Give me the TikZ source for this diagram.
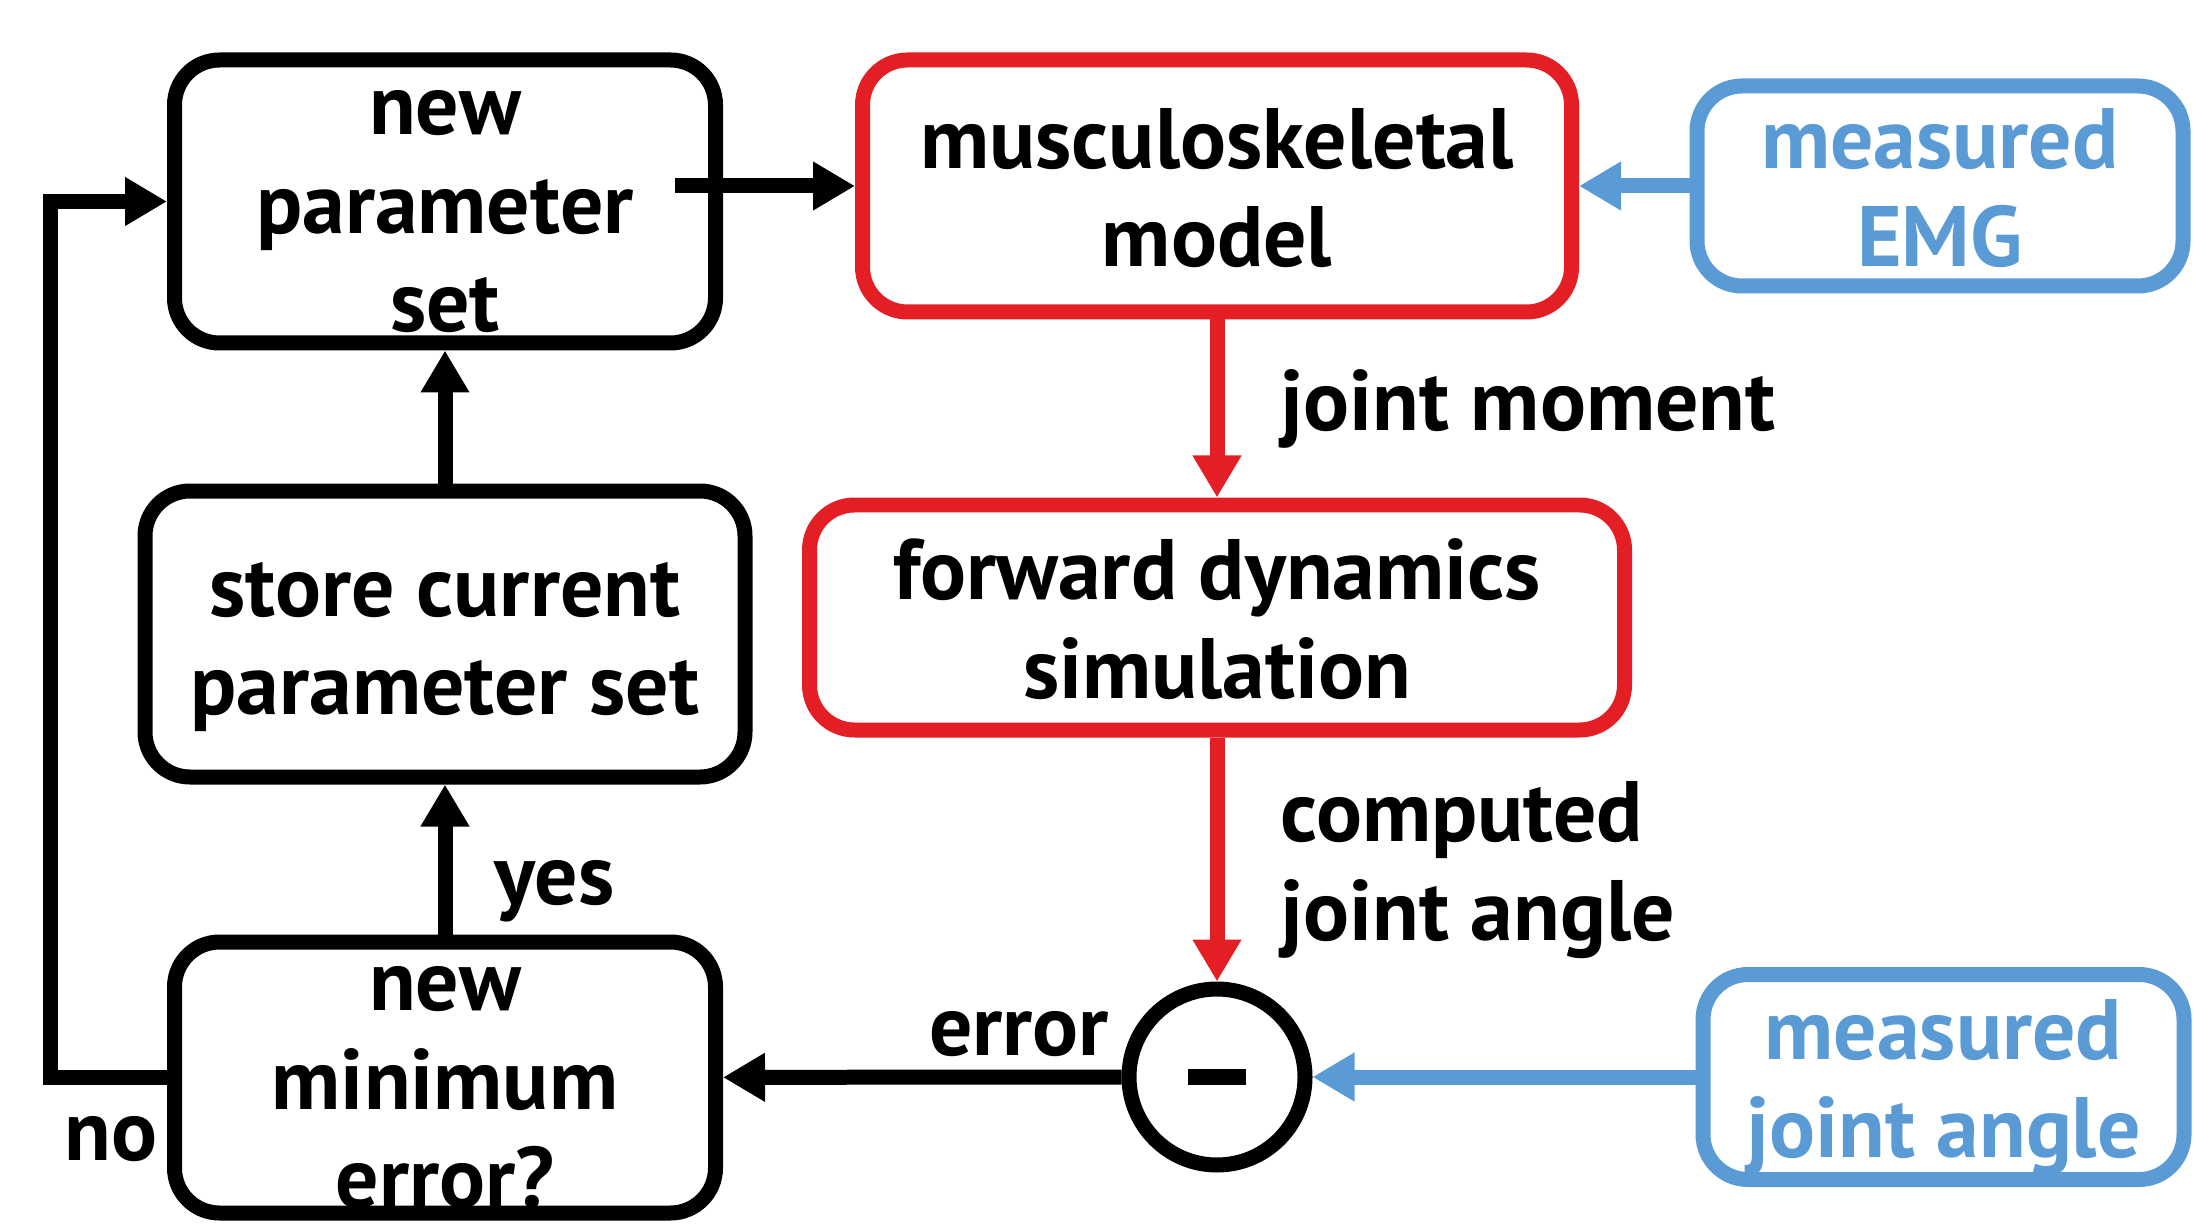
\documentclass[tikz,border=0pt]{standalone}
\usepackage{fontspec}
\setmainfont{PT Sans}
\usepackage{tikz}
\usetikzlibrary{arrows.meta,positioning,calc}
\definecolor{modelred}{RGB}{227,30,36}
\definecolor{measblue}{RGB}{91,155,213}

\begin{document}
\begin{tikzpicture}[
    box/.style={draw, line width=0.15cm, rounded corners=0.45cm, align=center, inner sep=0,
                font=\bfseries\fontsize{24.4}{28}\selectfont},
    redbox/.style={box, draw=modelred},
    bluebox/.style={box, draw=measblue, text=measblue},
    twolines/.style={text height=50pt, text depth=4pt},
    threelines/.style={text height=75pt, text depth=1pt},
    flow/.style={line width=0.15cm, -{Triangle[length=0.42cm,width=0.46cm]}},
    lbl/.style={inner sep=0, text=black, font=\bfseries\fontsize{24.4}{28}\selectfont}
  ]
  \useasboundingbox (0,0) rectangle (21.94,12.26);

  % Optimisation loop (left column)
  \node[box, threelines, minimum width=5.41cm, minimum height=2.83cm] (newset) at (4.45,10.245) {new\\parameter\\set};
  \node[box, twolines, minimum width=6.00cm, minimum height=2.86cm] (store) at (4.45,5.92) {store current\\parameter set};
  \node[box, threelines, minimum width=5.41cm, minimum height=2.71cm] (newmin) at (4.45,1.485) {new\\minimum\\error?};

  % Model and simulation (middle column)
  \node[redbox, twolines, minimum width=7.09cm, minimum height=2.52cm] (model) at (12.17,10.40) {musculoskeletal\\model};
  \node[redbox, twolines, minimum width=8.15cm, minimum height=2.25cm] (fwd) at (12.17,6.085) {forward dynamics\\simulation};
  \node[circle, draw, line width=0.15cm, minimum size=1.76cm, inner sep=0] (diff) at (12.17,1.49) {\rule{0.58cm}{0.16cm}};

  % Measurements (right column)
  \node[bluebox, twolines, minimum width=4.86cm, minimum height=2.00cm] (emg) at (19.40,10.40) {measured\\EMG};
  \node[bluebox, twolines, minimum width=4.81cm, minimum height=2.05cm] (angle) at (19.435,1.49) {measured\\joint angle};

  \coordinate (noleft) at (0.50,1.485);

  % Connectors
  \draw[flow] ([xshift=-0.48cm]newset.east |- model.west) -- (model.west);
  \draw[flow, measblue] (emg) -- (model);
  \draw[flow, modelred] (model) -- node[lbl, right=0.56cm] {joint moment} (fwd);
  \draw[flow, modelred] (fwd) -- node[lbl, twolines, align=left, right=0.56cm] {computed\\joint angle} (diff);
  \draw[flow, measblue] (angle) -- (diff);
  \draw[flow] (diff) -- node[lbl, pos=0, anchor=base east, xshift=-0.05cm, yshift=0.22cm] {error} (newmin);
  \draw[flow] (newmin) -- node[lbl, pos=0.29, right=0.42cm] {yes} (store);
  \draw[flow] (store) -- (newset);
  \draw[flow] (newmin.west) -- node[lbl, pos=1, anchor=base west, xshift=0.07cm, yshift=-0.83cm] {no} (noleft) |- (newset.west);
\end{tikzpicture}
\end{document}
